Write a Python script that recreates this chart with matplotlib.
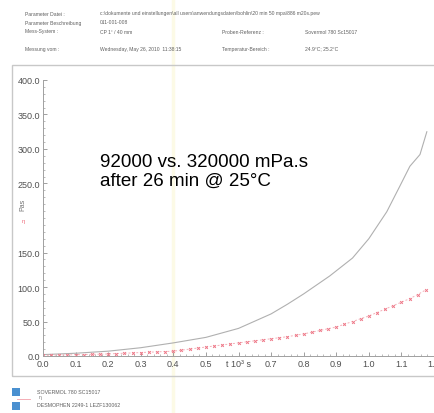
import numpy as np
import matplotlib.pyplot as plt
from matplotlib.patches import Rectangle
from matplotlib.ticker import MultipleLocator

plt.rcParams['font.family'] = ['Liberation Sans', 'DejaVu Sans']

# Sovermol 780 (gray line), time in 10^3 s, viscosity in Pas
t_gray = [0.0, 0.1, 0.2, 0.3, 0.4, 0.5, 0.6, 0.7, 0.75, 0.8, 0.88, 0.95, 1.0, 1.055, 1.095, 1.126, 1.157, 1.178]
v_gray = [2, 4, 7, 12, 19, 27, 40, 61, 75, 90, 116, 142, 170, 209, 246, 275, 292, 325]

# Desmophen 2249-1 (pink dotted with markers)
t_pink = [0.0, 0.025, 0.05, 0.075, 0.1, 0.125, 0.15, 0.175, 0.2, 0.225, 0.25, 0.275, 0.3, 0.325,
          0.35, 0.375, 0.4, 0.425, 0.45, 0.475, 0.5, 0.525, 0.55, 0.575, 0.6, 0.625, 0.65, 0.675,
          0.7, 0.725, 0.75, 0.775, 0.8, 0.825, 0.85, 0.875, 0.9, 0.925, 0.95, 0.975, 1.0, 1.025,
          1.05, 1.075, 1.1, 1.125, 1.15, 1.175]
v_pink = [1, 1, 1.5, 1.5, 2, 2, 2.5, 2.5, 3, 3.5, 4, 4.5, 5, 5.5,
          6, 6.5, 7, 8.5, 10, 11.5, 13, 14.5, 16, 17.5, 19, 20.5, 22, 23.5,
          25, 26.5, 28, 30, 32, 34.5, 37, 39.5, 42, 46, 50, 54, 58, 63,
          68, 73, 78, 83, 89, 96]

xticks = [0.0, 0.1, 0.2, 0.3, 0.4, 0.5, 0.6, 0.7, 0.8, 0.9, 1.0, 1.1, 1.2]
xlabels = ['0.0', '0.1', '0.2', '0.3', '0.4', '0.5', 't 10³ s', '0.7', '0.8', '0.9', '1.0', '1.1', '1.2']
yticks = [0, 50, 100, 150, 250, 300, 350, 400]

W, H = 434, 414
fig = plt.figure(figsize=(W / 100, H / 100), dpi=100)
fig.patch.set_facecolor('white')

# faint scan streak
fig.lines.append(plt.Line2D([173 / W, 173 / W], [0, 1], transform=fig.transFigure,
                            color='#fcfae6', linewidth=2.5, zorder=-5))

# header block
hdr_c = '#606060'
hdr = [
    (14, 'Parameter Datei :', 'c:\\dokumente und einstellungen\\all users\\anwendungsdaten\\bohlin\\20 min 50 mpa\\886 m20s.pew', None, None),
    (23, 'Parameter Beschreibung', '011-001-008', None, None),
    (32, 'Mess-System :', 'CP 1° / 40 mm', 'Proben-Referenz :', 'Sovermol 780 Sc15017'),
    (49, 'Messung vom :', 'Wednesday, May 26, 2010  11:38:15', 'Temperatur-Bereich :', '24.9°C; 25.2°C'),
]
for y, a, b, c, d in hdr:
    fig.text(25 / W, 1 - y / H, a, fontsize=3.6, color=hdr_c, va='center')
    fig.text(100 / W, 1 - y / H, b, fontsize=3.6, color=hdr_c, va='center')
    if c:
        fig.text(222 / W, 1 - y / H, c, fontsize=3.6, color=hdr_c, va='center')
        fig.text(305 / W, 1 - y / H, d, fontsize=3.6, color=hdr_c, va='center')

# outer frame
fig.patches.append(Rectangle((12 / W, 1 - 377 / H), 1.0, (377 - 66) / H, transform=fig.transFigure,
                             fill=False, edgecolor='#c8c8c8', linewidth=1.0))

ax = fig.add_axes([43 / W, 1 - 357 / H, 1 - 43 / W, (357 - 81) / H])
ax.set_facecolor('none')
ax.plot(t_gray, v_gray, color='#b0b0b0', linewidth=0.8)
ax.plot(t_pink, v_pink, color='#f4b0b8', linewidth=0.7, linestyle=(0, (2, 2)),
        marker='x', markersize=2.0, markeredgecolor='#ee7888', markeredgewidth=0.7)

ax.set_xlim(0, 1.2)
ax.set_ylim(0, 400)
ax.set_xticks(xticks)
ax.set_xticklabels(xlabels)
ax.set_yticks(yticks)
ax.set_yticklabels([f'{v:.1f}' for v in yticks])
ax.xaxis.set_minor_locator(MultipleLocator(0.02))
ax.yaxis.set_minor_locator(MultipleLocator(10))
ax.tick_params(axis='both', which='major', direction='in', length=3, width=0.6, color='#909090',
               labelsize=6.5, labelcolor='#505050', pad=2)
ax.tick_params(axis='both', which='minor', direction='in', length=1.5, width=0.5, color='#a0a0a0')
for s in ['top', 'right']:
    ax.spines[s].set_visible(False)
for s in ['left', 'bottom']:
    ax.spines[s].set_color('#a0a0a0')
    ax.spines[s].set_linewidth(0.7)

fig.text(23 / W, 1 - 205 / H, 'Pas', rotation=90, fontsize=5, color='#707070', ha='center', va='center')
fig.text(23 / W, 1 - 222 / H, 'η', fontsize=4.5, color='#ee7080', ha='center', va='center')

ax.text(100 / W, 1 - 172 / H, '92000 vs. 320000 mPa.s\nafter 26 min @ 25°C', transform=fig.transFigure,
        fontsize=13.5, color='black', va='center', ha='left', linespacing=1.15)

# legend
fig.patches.append(Rectangle((12 / W, 1 - 397 / H), 8 / W, 8 / H, transform=fig.transFigure,
                             facecolor='#4a90d0', edgecolor='none'))
fig.patches.append(Rectangle((12 / W, 1 - 411 / H), 8 / W, 8 / H, transform=fig.transFigure,
                             facecolor='#4a90d0', edgecolor='none'))
fig.lines.append(plt.Line2D([17 / W, 30 / W], [1 - 400 / H, 1 - 400 / H], transform=fig.transFigure,
                            color='#f2a0aa', linewidth=0.6))
fig.text(40 / W, 1 - 398 / H, 'η', fontsize=3.5, color='#707070', ha='center', va='center')
fig.text(37 / W, 1 - 393 / H, 'SOVERMOL 780 SC15017', fontsize=3.8, color='#606060', va='center')
fig.text(37 / W, 1 - 406 / H, 'DESMOPHEN 2249-1 LEZF130062', fontsize=3.8, color='#606060', va='center')

fig.savefig('out.png', dpi=100)
